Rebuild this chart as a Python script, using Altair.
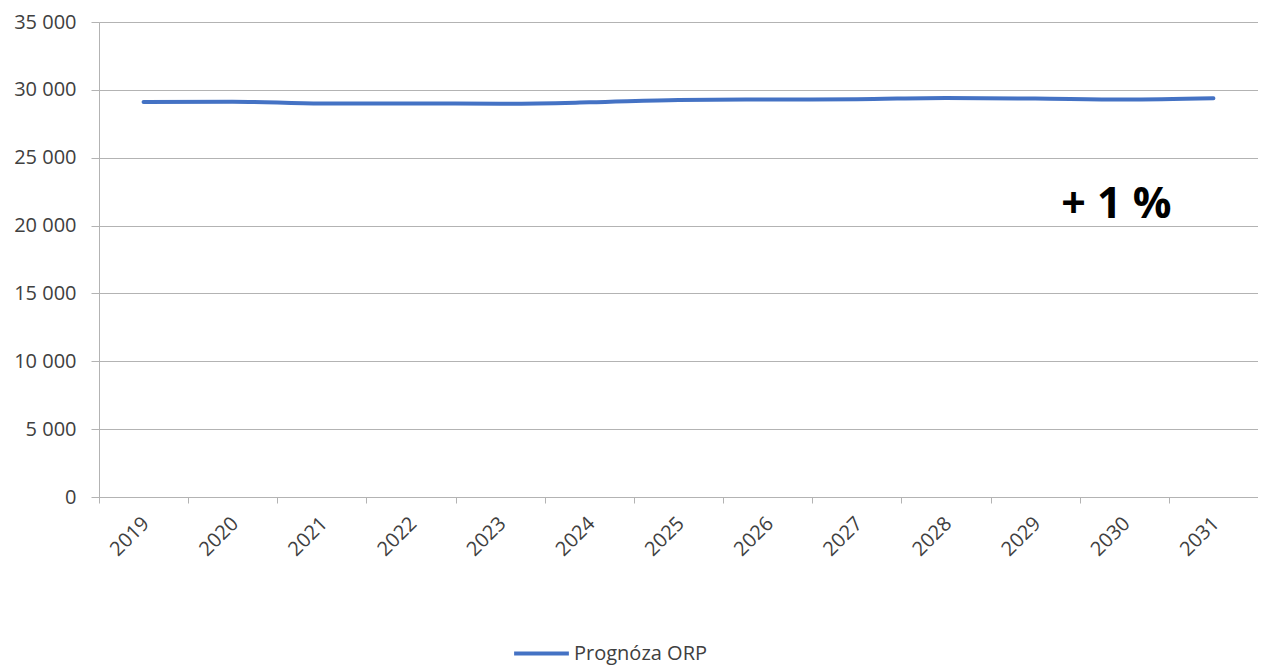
import altair as alt
import pandas as pd

years = ["2019", "2020", "2021", "2022", "2023", "2024", "2025",
         "2026", "2027", "2028", "2029", "2030", "2031"]
values = [29100, 29130, 28990, 29000, 28980, 29080, 29250,
          29290, 29310, 29400, 29360, 29290, 29380]
series_name = "Prognóza ORP"

note_text = ["+ 1 %"]
note_year = ["2030"]
note_value = [21500]

df = pd.DataFrame({"rok": years, "hodnota": values, "serie": [series_name] * len(years)})
notes = pd.DataFrame({"rok": note_year, "hodnota": note_value, "txt": note_text})

FONT = "Open Sans"
GRAY = "#b3b3b3"
TXT = "#404040"

x_enc = alt.X("rok:N", sort=years, title=None,
              scale=alt.Scale(type="band", paddingInner=0, paddingOuter=0),
              axis=alt.Axis(labelAngle=-45, labelFontSize=20, labelFont=FONT, labelColor=TXT,
                            tickBand="extent", tickSize=6, tickColor=GRAY, domainColor=GRAY,
                            labelPadding=10, labelOffset=-5, grid=False,
                            labelAlign="right", labelBaseline="top"))
y_enc = alt.Y("hodnota:Q", title=None,
              scale=alt.Scale(domain=[0, 35000], nice=False),
              axis=alt.Axis(values=list(range(0, 35001, 5000)),
                            labelExpr="replace(format(datum.value, ','), ',', ' ')",
                            labelFontSize=20, labelFont=FONT, labelColor=TXT,
                            tickSize=8, tickColor=GRAY, domainColor=GRAY, gridColor=GRAY,
                            gridWidth=1, labelPadding=15))

line = alt.Chart(df).mark_line(strokeWidth=4, interpolate="monotone", strokeCap="round").encode(
    x=x_enc,
    y=y_enc,
    color=alt.Color("serie:N", scale=alt.Scale(range=["#4472C4"]),
                    legend=alt.Legend(title=None, orient="none", legendX=413, legendY=602,
                                      symbolType="stroke", symbolSize=3000, symbolStrokeWidth=4,
                                      labelFontSize=20, labelFont=FONT, labelColor=TXT,
                                      labelOffset=3)),
)

note = alt.Chart(notes).mark_text(fontSize=43, fontWeight="bold", font=FONT, color="black",
                                  baseline="middle", dx=-8).encode(
    x=alt.X("rok:N", sort=years),
    y=alt.Y("hodnota:Q"),
    text="txt:N",
)

chart = alt.layer(line, note).properties(
    width=1159, height=475,
    autosize=alt.AutoSizeParams(type="none"),
    padding={"left": 91, "top": 14, "right": 0, "bottom": 169},
).configure_view(stroke=None).configure(background="white")

chart.save("out.html", embed_options={"renderer": "svg", "actions": False})
